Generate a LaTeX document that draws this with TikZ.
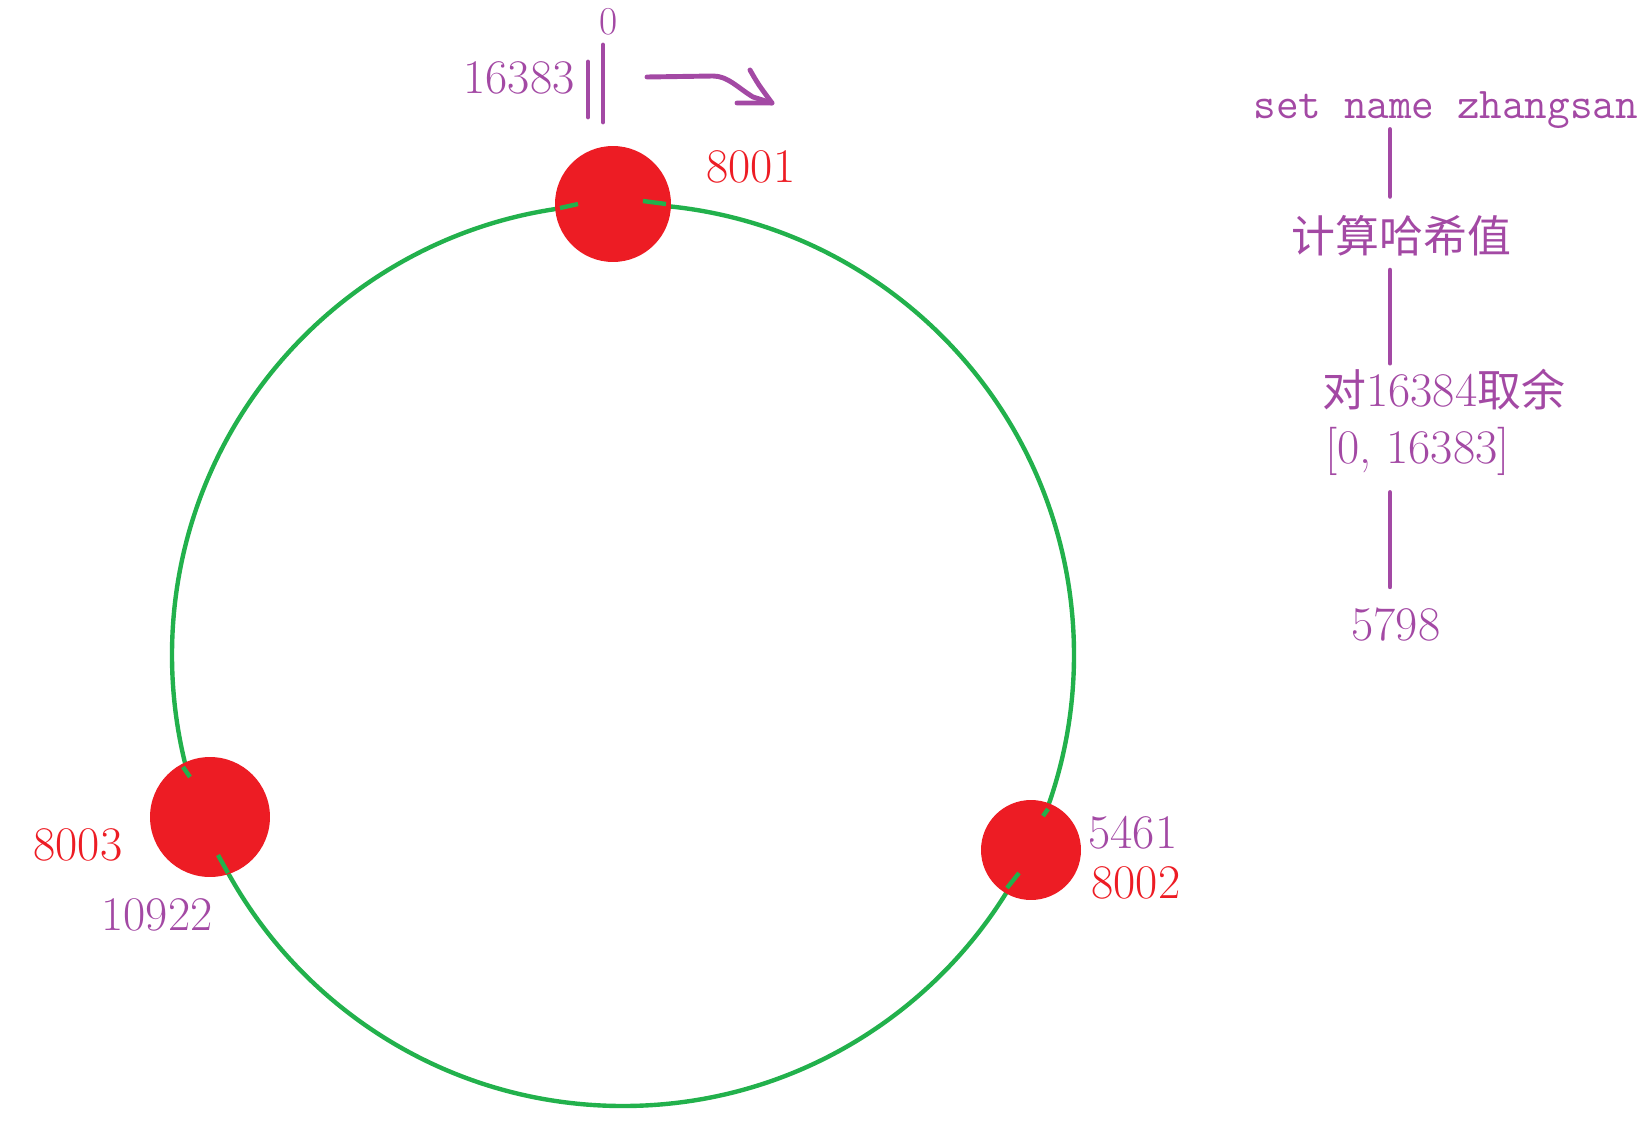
\documentclass[tikz,border=0pt]{standalone}
\usepackage{fontspec}
\usepackage{tikz}
\usepackage{xcolor}
\usetikzlibrary{arrows, positioning}
\newfontfamily\cjk{Noto Sans CJK SC}
\definecolor{ppurple}{RGB}{163,73,164}
\definecolor{pred}{RGB}{237,28,36}
\definecolor{pgreen}{RGB}{34,177,76}

\begin{document}
\begin{tikzpicture}[x=0.02cm, y=-0.02cm, semithick]
    \tikzstyle{ring}=[draw=pgreen, line width=2.5pt]
    \tikzstyle{stub}=[draw=pgreen, line width=2.5pt]
    \tikzstyle{server}=[circle, fill=pred, inner sep=0pt]
    \tikzstyle{port}=[text=pred, font=\fontsize{27.5}{32}\selectfont, inner sep=0pt, anchor=base west]
    \tikzstyle{slot}=[text=ppurple, font=\fontsize{27.5}{32}\selectfont, inner sep=0pt, anchor=base west]
    \tikzstyle{pline}=[draw=ppurple, line width=2.8pt, line cap=round, line join=round]

    \useasboundingbox (0,0) rectangle (1650,1132);

    % hash ring
    \draw[ring] (623,655) circle (451);

    \node[server, minimum size=2.32cm] (s1) at (613,204) {};
    \node[server, minimum size=2.4cm]  (s3) at (210,817) {};
    \node[server, minimum size=2.0cm]  (s2) at (1031,850) {};

    % bits of the ring left over the servers
    \draw[stub] (560,208) -- (578,204);
    \draw[stub] (643,201) -- (666,204);
    \draw[stub] (183,767) -- (190,777);
    \draw[stub] (218,855) -- (228,873);
    \draw[stub] (1043,816) -- (1048,809);
    \draw[stub] (1007,888) -- (1019,873);

    % start of the ring
    \node[slot, font=\fontsize{22.5}{26}\selectfont] (zero) at (599,35) {0};
    \node[slot] (last) at (463,93) {16383};
    \draw[pline] (588,62) -- (588,117);
    \draw[pline] (603,45) -- (603,122);

    \coordinate (dirA) at (647,77);
    \coordinate (dirB) at (713,76);
    \coordinate (dirC) at (753,97);
    \coordinate (dirT) at (772,103);
    \draw[pline] (dirA) -- (dirB) .. controls (728,76) and (738,88) .. (dirC) -- (dirT);
    \draw[pline] (750,70) .. controls (758,84) .. (dirT) -- (737,103);

    \node[port] (p1) at (706,182)  {8001};
    \node[port] (p3) at (33,860)   {8003};
    \node[port] (p2) at (1091,898) {8002};
    \node[slot] (k3) at (101,930)  {10922};
    \node[slot] (k2) at (1088,848) {5461};

    % key to slot
    \node[slot, font=\fontsize{25}{30}\selectfont\ttfamily] (cmd) at (1253,119) {set name zhangsan};
    \node[slot, font=\fontsize{25}{30}\selectfont] (hash) at (1291,252) {\cjk 计算哈希值};
    \node[slot] (mod)    at (1322,406) {{\cjk\fontsize{25}{30}\selectfont 对}16384{\cjk\fontsize{25}{30}\selectfont 取余}};
    \node[slot] (range)  at (1325,463) {[0, 16383]};
    \node[slot] (result) at (1351,640) {5798};

    \coordinate (spine) at (1390,0);
    \draw[pline, shorten >=0.36cm] (cmd.south -| spine) -- (hash.north -| spine);
    \draw[pline, shorten <=0.28cm, shorten >=0.1cm] (hash.south -| spine) -- (mod.north -| spine);
    \draw[pline, shorten <=0.34cm, shorten >=0.4cm] (range.south -| spine) -- (result.north -| spine);
\end{tikzpicture}
\end{document}
